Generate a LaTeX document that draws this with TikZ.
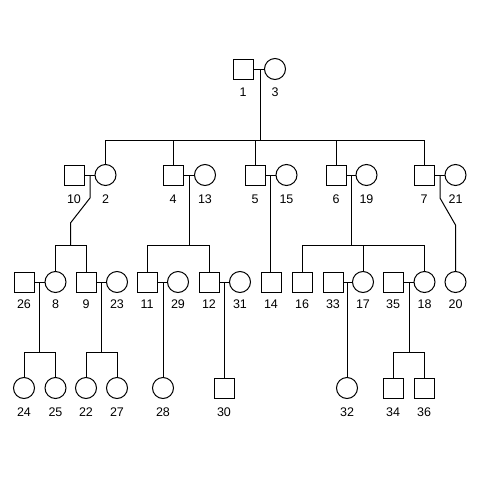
\documentclass[tikz,border=0pt]{standalone}
\usepackage{fontspec}
\setmainfont{Liberation Sans}
\begin{document}
\begin{tikzpicture}[x=1pt,y=-1pt,line width=1pt,
  male/.style={draw,rectangle,minimum size=20pt,inner sep=0pt},
  female/.style={draw,circle,minimum size=21pt,inner sep=0pt},
  lab/.style={inner sep=0pt,font=\fontsize{12.5}{14}\selectfont},
  link/.style={draw,line width=1pt}]
\useasboundingbox[fill=white] (0,0) rectangle (480,480);

% Generation I
\node[male]   (p1) at (243,69) {};
\node[female] (p3) at (275,69) {};

% Generation II
\node[male]   (p10) at (74,175) {};
\node[female] (p2)  at (105.5,175) {};
\node[male]   (p4)  at (173,175) {};
\node[female] (p13) at (205,175) {};
\node[male]   (p5)  at (255,175) {};
\node[female] (p15) at (286.5,175) {};
\node[male]   (p6)  at (336,175) {};
\node[female] (p19) at (366.5,175) {};
\node[male]   (p7)  at (424,175) {};
\node[female] (p21) at (455.5,175) {};

% Generation III
\node[male]   (p26) at (24,282) {};
\node[female] (p8)  at (55.5,282) {};
\node[male]   (p9)  at (86,282) {};
\node[female] (p23) at (117,282) {};
\node[male]   (p11) at (147,282) {};
\node[female] (p29) at (178,282) {};
\node[male]   (p12) at (209,282) {};
\node[female] (p31) at (240,282) {};
\node[male]   (p14) at (271,282) {};
\node[male]   (p16) at (302,282) {};
\node[male]   (p33) at (333,282) {};
\node[female] (p17) at (363,282) {};
\node[male]   (p35) at (393,282) {};
\node[female] (p18) at (424.5,282) {};
\node[female] (p20) at (455.5,282) {};

% Generation IV
\node[female] (p24) at (24,388) {};
\node[female] (p25) at (55.5,388) {};
\node[female] (p22) at (86,388) {};
\node[female] (p27) at (117,388) {};
\node[female] (p28) at (163,388) {};
\node[male]   (p30) at (224,388) {};
\node[female] (p32) at (347,388) {};
\node[male]   (p34) at (393,388) {};
\node[male]   (p36) at (424,388) {};

% Identifiers
\foreach \p/\y in {1/92,3/92,
  10/199,2/199,4/199,13/199,5/199,15/199,6/199,19/199,7/199,21/199,
  26/304,8/304,9/304,23/304,11/304,29/304,12/304,31/304,14/304,16/304,33/304,17/304,35/304,18/304,20/304,
  24/412,25/412,22/412,27/412,28/412,30/412,32/412,34/412,36/412}
  \node[lab] (t\p) at (p\p.center |- 0,\y) {\p};

% Couples and descent lines
\coordinate (c1) at (260,69);
\coordinate (c10) at (90,175);
\coordinate (c4) at (189,175);
\coordinate (c5) at (270.5,175);
\coordinate (c6) at (351,175);
\coordinate (c7) at (440,175);
\coordinate (c26) at (39.5,282);
\coordinate (c9) at (101.5,282);
\coordinate (c11) at (163,282);
\coordinate (c12) at (224,282);
\coordinate (c33) at (347,282);
\coordinate (c35) at (409,282);

\foreach \a/\b in {1/3,10/2,4/13,5/15,6/19,7/21,26/8,9/23,11/29,12/31,33/17,35/18}
  \draw[link] (p\a.east) -- (p\b.west);

% I -> II
\draw[link] (c1) -- (260,140);
\draw[link] (p2.north) -- (105.5,140) -- (424,140) -- (p7.north);
\draw[link] (p4.north) -- (173,140);
\draw[link] (p5.north) -- (255,140);
\draw[link] (p6.north) -- (336,140);

% II -> III
\draw[link] (c10) -- (90,198) -- (70.7,222.7) -- (70.7,245.7);
\draw[link] (p8.north) -- (55.5,245.7) -- (86,245.7) -- (p9.north);
\draw[link] (c4) -- (189,245.7);
\draw[link] (p11.north) -- (147,245.7) -- (209,245.7) -- (p12.north);
\draw[link] (c5) -- (c5 |- p14.north);
\draw[link] (c6) -- (351,245.7);
\draw[link] (p16.north) -- (302,245.7) -- (424.5,245.7) -- (p18.north);
\draw[link] (p17.north) -- (363,245.7);
\draw[link] (c7) -- (440,198) -- (455.5,225) -- (p20.north);

% III -> IV
\draw[link] (c26) -- (39.5,352);
\draw[link] (p24.north) -- (24,352) -- (55.5,352) -- (p25.north);
\draw[link] (c9) -- (101.5,352);
\draw[link] (p22.north) -- (86,352) -- (117,352) -- (p27.north);
\draw[link] (c11) -- (p28.north);
\draw[link] (c12) -- (p30.north);
\draw[link] (c33) -- (p32.north);
\draw[link] (c35) -- (409,352);
\draw[link] (p34.north) -- (393,352) -- (424,352) -- (p36.north);
\end{tikzpicture}
\end{document}
